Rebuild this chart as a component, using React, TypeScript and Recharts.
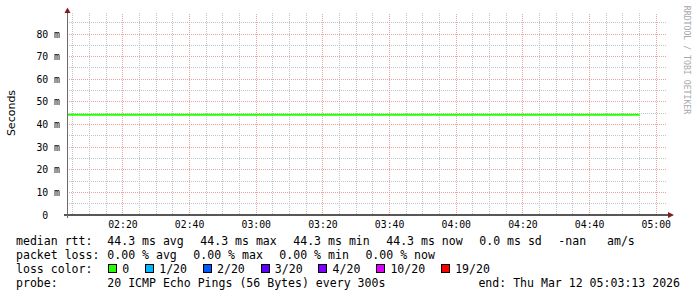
import React from "react";
import { LineChart, Line, XAxis, YAxis, CartesianGrid, ReferenceLine } from "recharts";

// ---- data ----
const sampleTimes = [
  "02:00", "02:05", "02:10", "02:15", "02:20", "02:25", "02:30", "02:35", "02:40", "02:45", "02:50", "02:55",
  "03:00", "03:05", "03:10", "03:15", "03:20", "03:25", "03:30", "03:35", "03:40", "03:45", "03:50", "03:55",
  "04:00", "04:05", "04:10", "04:15", "04:20", "04:25", "04:30", "04:35", "04:40", "04:45", "04:50", "04:55",
];
const medianRtt = [
  0.0443, 0.0443, 0.0443, 0.0443, 0.0443, 0.0443, 0.0443, 0.0443, 0.0443, 0.0443, 0.0443, 0.0443,
  0.0443, 0.0443, 0.0443, 0.0443, 0.0443, 0.0443, 0.0443, 0.0443, 0.0443, 0.0443, 0.0443, 0.0443,
  0.0443, 0.0443, 0.0443, 0.0443, 0.0443, 0.0443, 0.0443, 0.0443, 0.0443, 0.0443, 0.0443, 0.0443,
];
const rangeStart = "02:03:13";
const rangeEnd = "05:03:13";
const xTickLabels = ["02:20", "02:40", "03:00", "03:20", "03:40", "04:00", "04:20", "04:40", "05:00"];
const yTickValues = [0, 0.01, 0.02, 0.03, 0.04, 0.05, 0.06, 0.07, 0.08];
const yMax = 0.0893;

const rttStats = ["44.3 ms avg", "44.3 ms max", "44.3 ms min", "44.3 ms now", "0.0 ms sd", "-nan   am/s"];
const lossStats = ["0.00 % avg", "0.00 % max", "0.00 % min", "0.00 % now"];
const lossLevels = ["0", "1/20", "2/20", "3/20", "4/20", "10/20", "19/20"];
const lossColors = ["#26ff00", "#00b8ff", "#0059ff", "#5e00ff", "#7e00ff", "#dd00ff", "#ff0000"];
const probeText = "20 ICMP Echo Pings (56 Bytes) every 300s";
const endText = "end: Thu Mar 12 05:03:13 2026";

// ---- helpers ----
const toSec = (s: string) => {
  const p = s.split(":").map(Number);
  return p[0] * 3600 + p[1] * 60 + (p[2] || 0);
};
const xStart = toSec(rangeStart);
const xEnd = toSec(rangeEnd);
const xTicks = xTickLabels.map(toSec);
const tickLabelOf = new Map(xTickLabels.map((l) => [toSec(l), l]));

// minor grid: every 5 minutes / every 5 m
const minorX: number[] = [];
for (let t = toSec("02:05"); t <= xEnd; t += 300) if (!xTicks.includes(t)) minorX.push(t);
const majorY = yTickValues.filter((v) => v > 0);
const minorY = yTickValues.map((v) => v + 0.005).filter((v) => v < yMax);

const data = sampleTimes.map((s, i) => ({ t: toSec(s), rtt: medianRtt[i] }));

const MONO = "'DejaVu Sans Mono', monospace";
const TICK_FS = 9.8;
const TICK_CW = TICK_FS * 0.602;
const LEG_FS = 11.56;
const MAJOR_GRID = "#eaa2a2";

const XTick = (props: any) => {
  const { x, y, payload } = props;
  return (
    <text x={x} y={y + 13} textAnchor="middle" fontFamily={MONO} fontSize={TICK_FS} fill="#000">
      {tickLabelOf.get(payload.value) ?? ""}
    </text>
  );
};

const YTick = (props: any) => {
  const { x, y, payload } = props;
  const v = payload.value as number;
  const label = v === 0 ? "0" : `${Math.round(v * 1000)} m`;
  const shift = v === 0 ? 2 * TICK_CW : 0;
  return (
    <text x={x - shift} y={y + 3.6} textAnchor="end" fontFamily={MONO} fontSize={TICK_FS} fill="#000">
      {label}
    </text>
  );
};

const XAxisShape = (p: any) => {
  const x1 = Math.min(p.x1, p.x2);
  const x2 = Math.max(p.x1, p.x2);
  const y = p.y1;
  return (
    <g>
      <line x1={x1 - 3} x2={x2 + 2} y1={y} y2={y} stroke="#1f1f1f" strokeWidth={1.6} />
      <polygon points={`${x2 + 1},${y - 3} ${x2 + 1},${y + 3} ${x2 + 7},${y}`} fill="#801f1f" />
    </g>
  );
};

const YAxisShape = (p: any) => {
  const x = p.x1 + 0.5;
  const top = Math.min(p.y1, p.y2);
  const bottom = Math.max(p.y1, p.y2);
  return (
    <g>
      <line x1={x} x2={x} y1={top - 2} y2={bottom + 3} stroke="#6a6a6a" strokeWidth={1} />
      <polygon points={`${x - 3},${top} ${x + 3},${top} ${x},${top - 5.5}`} fill="#801f1f" />
    </g>
  );
};

const rowStyle: React.CSSProperties = {
  display: "flex",
  alignItems: "center",
  height: 14,
  lineHeight: "14px",
  whiteSpace: "pre",
};
const LABEL_W = 91.3;

export default function App() {
  return (
    <div style={{ position: "absolute", left: 0, top: 0, width: 697, height: 297, background: "#fff", overflow: "hidden" }}>
      <style>{`.recharts-cartesian-grid line, .major-grid line { shape-rendering: crispEdges; }`}</style>
      <LineChart width={697} height={297} data={data} margin={{ top: 13, right: 30, bottom: 62, left: 7 }}>
        <CartesianGrid
          horizontal
          vertical
          horizontalValues={minorY}
          verticalValues={minorX}
          stroke="#c4c4c4"
          strokeDasharray="1 1"
        />
        <XAxis
          type="number"
          dataKey="t"
          domain={[xStart, xEnd]}
          ticks={xTicks}
          interval={0}
          allowDataOverflow
          height={20}
          tickSize={0}
          tickMargin={0}
          tickLine={false}
          axisLine={false}
          tick={<XTick />}
        />
        <YAxis
          type="number"
          domain={[0, yMax]}
          ticks={yTickValues}
          interval={0}
          allowDataOverflow
          width={60}
          tickSize={0}
          tickMargin={7}
          tickLine={false}
          axisLine={false}
          tick={<YTick />}
        />
        {majorY.map((v) => (
          <ReferenceLine key={`my${v}`} y={v} className="major-grid" stroke={MAJOR_GRID} strokeDasharray="1 1" />
        ))}
        {xTicks.map((t) => (
          <ReferenceLine key={`mx${t}`} x={t} className="major-grid" stroke={MAJOR_GRID} strokeDasharray="1 1" />
        ))}
        <Line
          type="linear"
          dataKey="rtt"
          stroke={lossColors[0]}
          strokeWidth={2}
          dot={false}
          activeDot={false}
          isAnimationActive={false}
        />
        <ReferenceLine y={0} shape={XAxisShape} />
        <ReferenceLine x={xStart} shape={YAxisShape} />
      </LineChart>

      {/* y axis title */}
      <div
        style={{
          position: "absolute",
          left: 11,
          top: 113,
          transform: "translate(-50%, -50%) rotate(-90deg)",
          fontFamily: "'DejaVu Sans', sans-serif",
          fontSize: 11,
          color: "#000",
          whiteSpace: "nowrap",
        }}
      >
        Seconds
      </div>

      {/* watermark */}
      <div
        style={{
          position: "absolute",
          left: 687,
          top: 59.5,
          transform: "translate(-50%, -50%) rotate(90deg)",
          fontFamily: MONO,
          fontSize: 8.2,
          color: "#a8a8a8",
          whiteSpace: "nowrap",
        }}
      >
        RRDTOOL / TOBI OETIKER
      </div>

      {/* legend */}
      <div
        style={{
          position: "absolute",
          left: 16,
          top: 234,
          width: 670,
          fontFamily: MONO,
          fontSize: LEG_FS,
          color: "#000",
        }}
      >
        <div style={rowStyle}>
          <span style={{ width: LABEL_W, flex: "none" }}>median rtt:</span>
          {rttStats.map((s, i) => (
            <span key={i} style={{ marginRight: 16.5 }}>{s}</span>
          ))}
        </div>
        <div style={rowStyle}>
          <span style={{ width: LABEL_W, flex: "none" }}>packet loss:</span>
          {lossStats.map((s, i) => (
            <span key={i} style={{ marginRight: 16.5 }}>{s}</span>
          ))}
        </div>
        <div style={rowStyle}>
          <span style={{ width: LABEL_W, flex: "none" }}>loss color:</span>
          {lossLevels.map((l, i) => (
            <span key={i} style={{ display: "flex", alignItems: "center", marginRight: 15 }}>
              <span
                style={{
                  display: "inline-block",
                  width: 7,
                  height: 7,
                  border: "1px solid #000",
                  background: lossColors[i],
                  marginLeft: 0.7,
                  marginRight: 5.3,
                  position: "relative",
                  top: -1,
                }}
              />
              <span>{l}</span>
            </span>
          ))}
        </div>
        <div style={{ ...rowStyle, position: "relative" }}>
          <span style={{ width: LABEL_W, flex: "none" }}>probe:</span>
          <span>{probeText}</span>
          <span style={{ position: "absolute", right: 6 }}>{endText}</span>
        </div>
      </div>
    </div>
  );
}
